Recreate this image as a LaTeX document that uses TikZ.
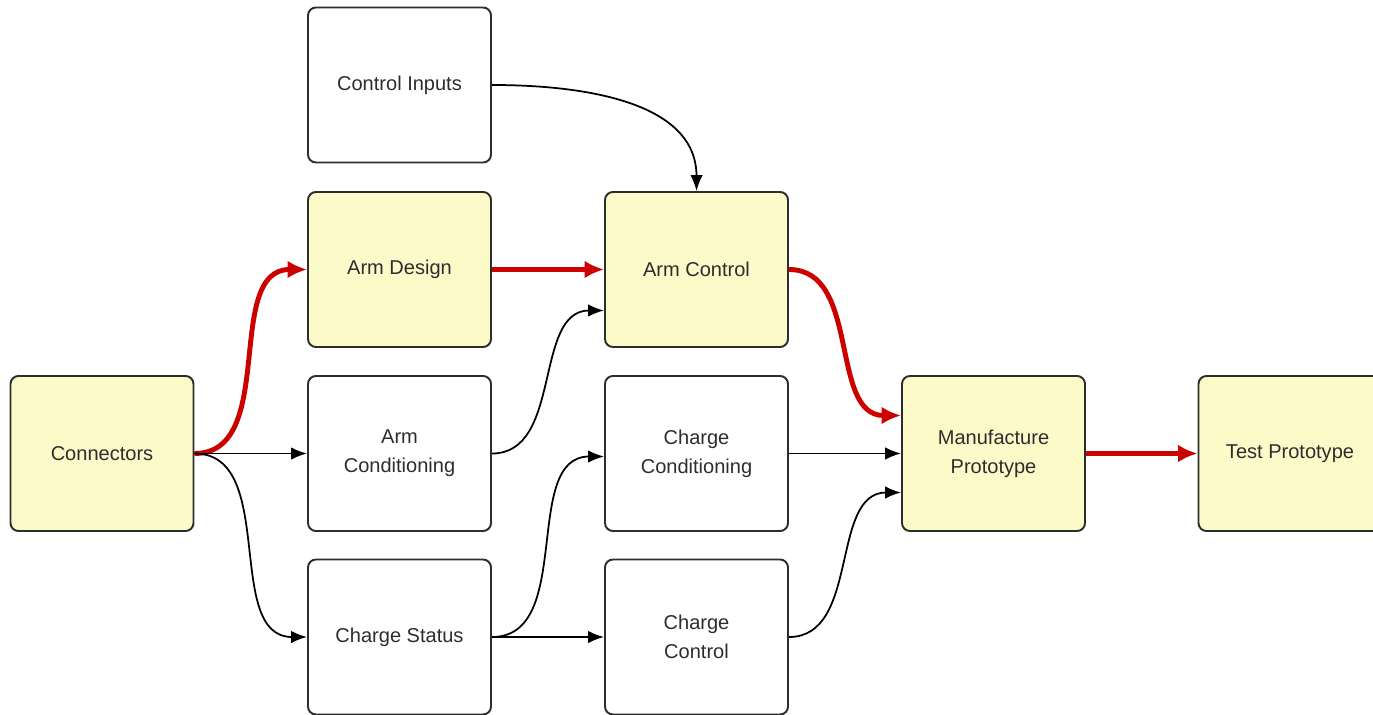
\documentclass[tikz,border=0pt]{standalone}
\usepackage{fontspec}
\setmainfont{Liberation Sans}
\usetikzlibrary{arrows.meta}
\definecolor{boxfill}{RGB}{251,250,200}
\definecolor{boxline}{RGB}{45,45,45}
\definecolor{critred}{RGB}{205,0,0}
\tikzset{
every node/.style={ % Sets the properties for each task box
draw=boxline,
text=boxline,
line width=1.1pt,
rounded corners=4.5pt,
minimum width=3.66cm,
minimum height=3.1cm,
inner sep=0pt,
align=center,
font=\fontsize{11.4pt}{16.5pt}\selectfont,
fill=white},
task/.style={fill=white}, % Plain task
key/.style={fill=boxfill}, % Task on the critical path
every edge/.style={ % Sets the properties for each dependency
draw,
line width=1pt,
-{Latex[length=9pt,width=7pt]}},
critical/.style={ % Critical path in red
draw=critred,
line width=2.8pt,
-{Latex[length=11pt,width=10pt]}}}

\begin{document}
\begin{tikzpicture}
\useasboundingbox (0,0) rectangle (27.46,-14.3);
\node[key] (conn) at (2.04,-9.07) {Connectors};
\node[task] (inputs) at (7.99,-1.70) {Control Inputs};
\node[key] (design) at (7.99,-5.39) {Arm Design};
\node[task] (armcond) at (7.99,-9.07) {Arm\\Conditioning};
\node[task] (status) at (7.99,-12.74) {Charge Status};
\node[key] (control) at (13.93,-5.39) {Arm Control};
\node[task] (chcond) at (13.93,-9.07) {Charge\\Conditioning};
\node[task] (chctrl) at (13.93,-12.74) {Charge\\Control};
\node[key] (manuf) at (19.87,-9.07) {Manufacture\\Prototype};
\node[key] (test) at (25.80,-9.07) {Test Prototype};
\draw (conn.east) edge[critical, out=0, in=180] (design.west);
\draw (conn.east) edge (armcond.west);
\draw (conn.east) edge[out=0, in=180] (status.west);
\draw (inputs.east) edge[out=0, in=90] (control.north);
\draw (design.east) edge[critical] (control.west);
\draw (armcond.east) edge[out=0, in=180] ([yshift=-0.82cm]control.west);
\draw (status.east) edge[out=0, in=180] ([yshift=-0.06cm]chcond.west);
\draw (status.east) edge (chctrl.west);
\draw (control.east) edge[critical, out=0, in=180] ([yshift=0.76cm]manuf.west);
\draw (chcond.east) edge (manuf.west);
\draw (chctrl.east) edge[out=0, in=180] ([yshift=-0.78cm]manuf.west);
\draw (manuf.east) edge[critical] (test.west);
\end{tikzpicture}
\end{document}
